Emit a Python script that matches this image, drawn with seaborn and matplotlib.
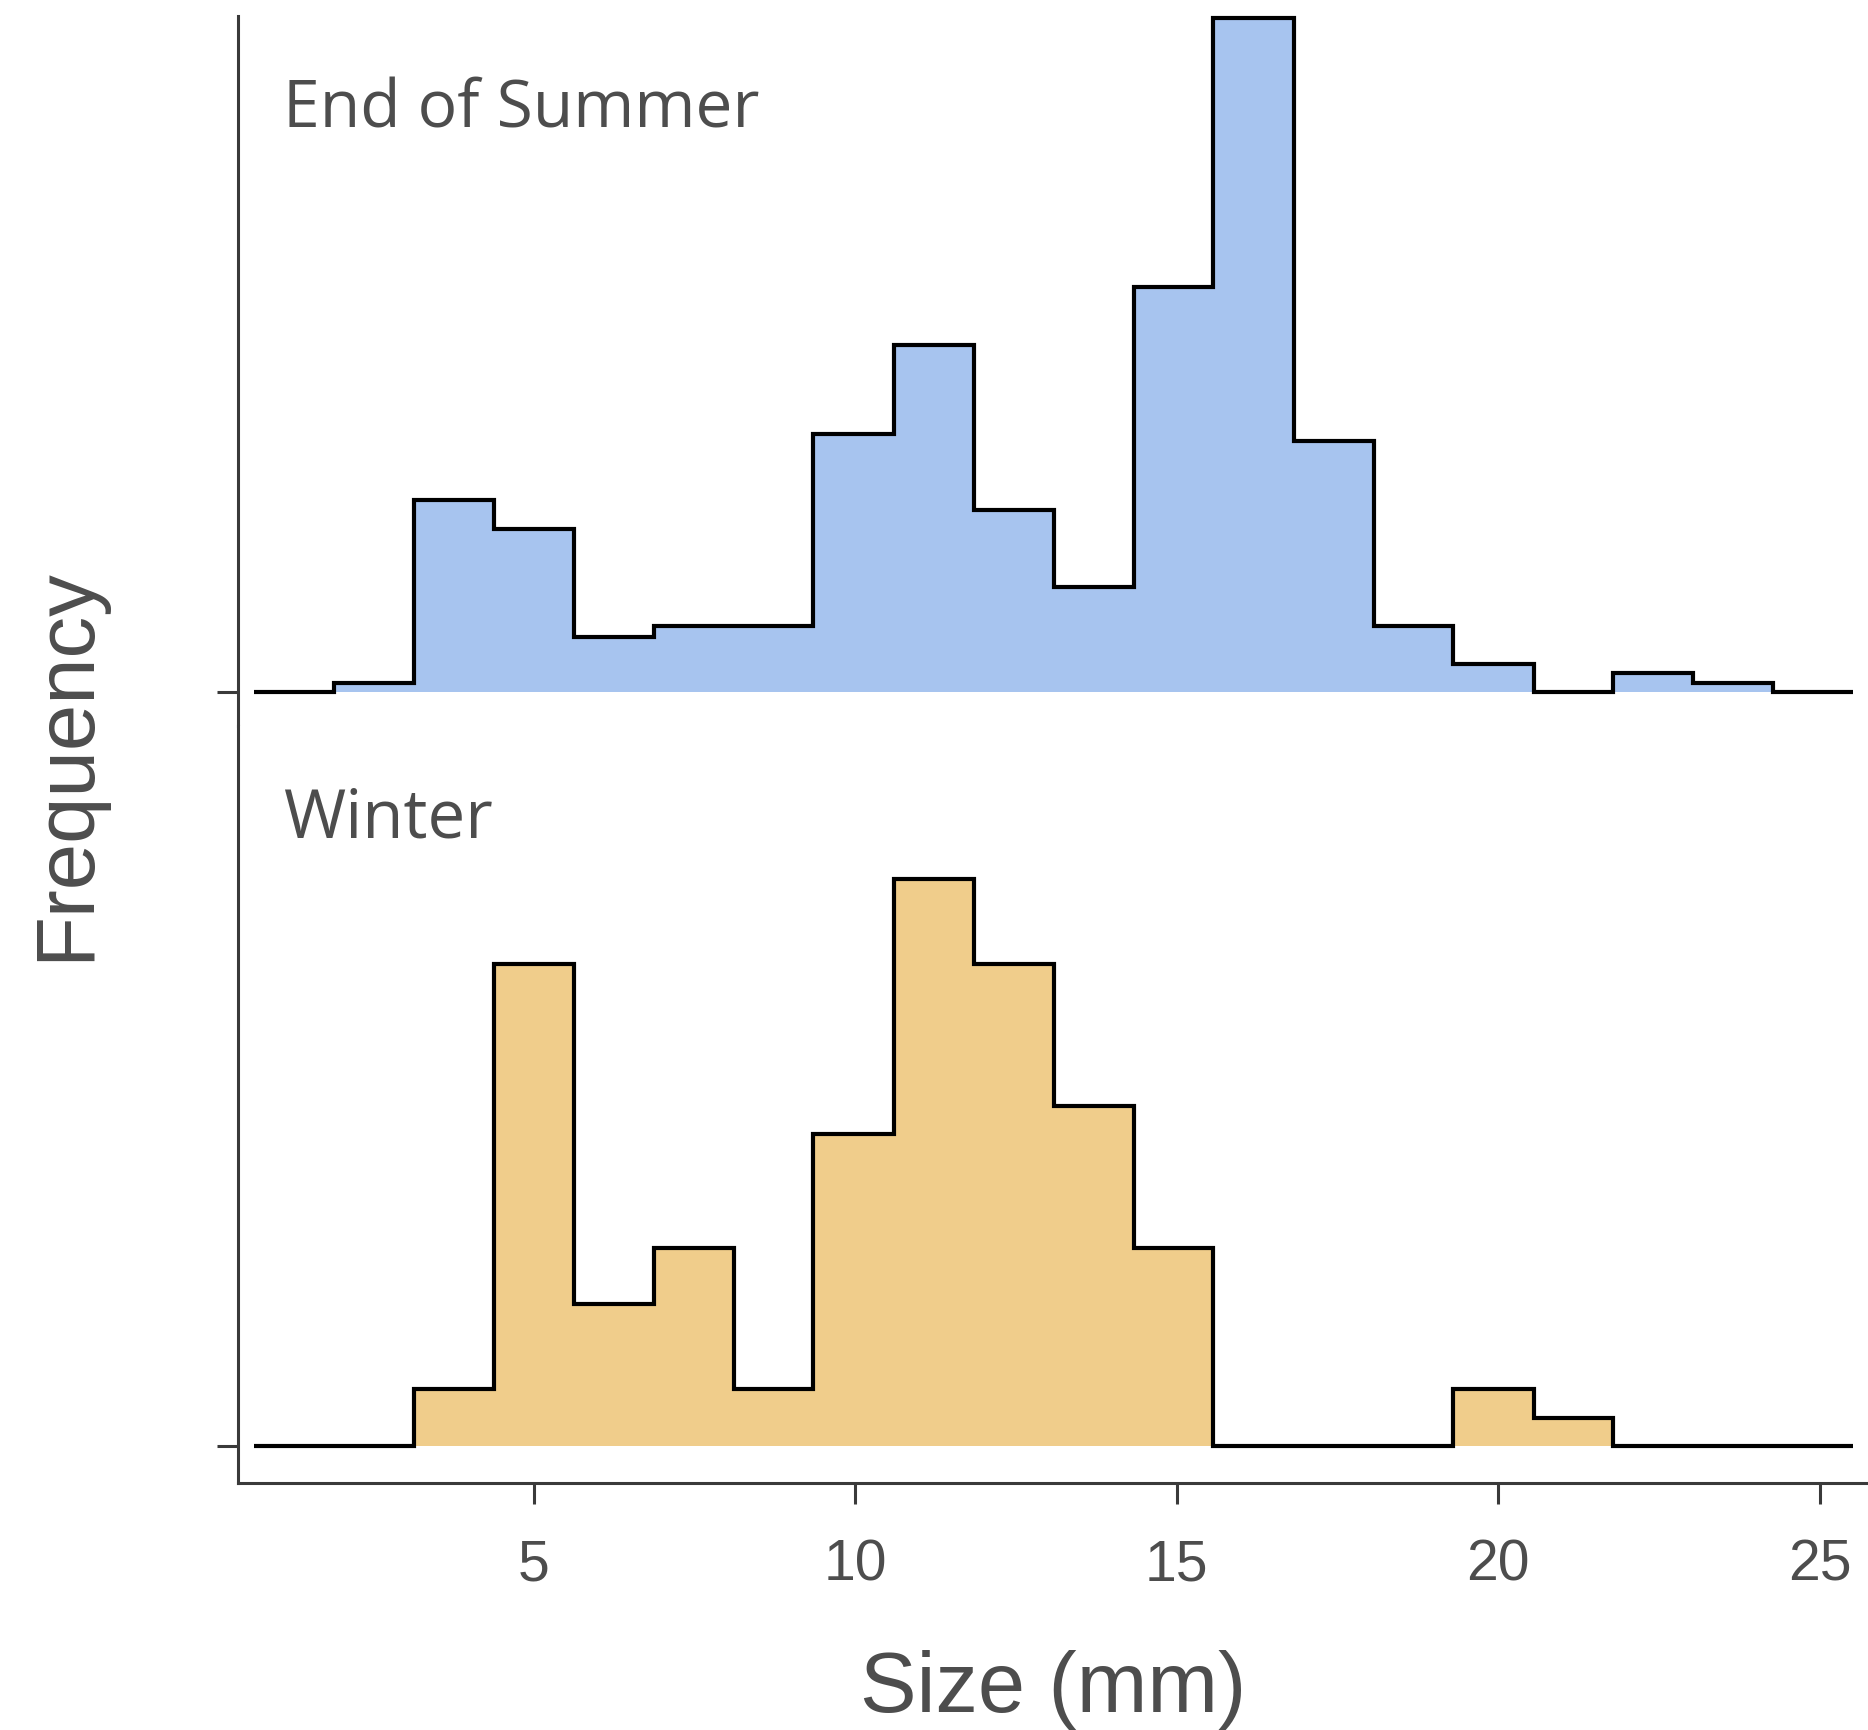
import matplotlib
matplotlib.use("Agg")
import matplotlib.pyplot as plt
import seaborn as sns
import numpy as np

# ---- data ----
bin_edges = [0.65, 1.89, 3.14, 4.38, 5.62, 6.87, 8.11, 9.35, 10.60, 11.84,
             13.09, 14.33, 15.57, 16.82, 18.06, 19.30, 20.55, 21.79, 23.03,
             24.28, 25.52]
bin_centers = [1.27, 2.52, 3.76, 5.00, 6.25, 7.49, 8.73, 9.98, 11.22, 12.47,
               13.71, 14.95, 16.20, 17.44, 18.68, 19.93, 21.17, 22.41, 23.66,
               24.90]
summer_counts = [0, 1, 20.5, 17.4, 5.9, 7, 7, 27.6, 37.1, 19.4, 11.2, 43.3,
                 72, 26.8, 7, 3, 0, 2, 1, 0]
winter_counts = [0, 0, 2, 17, 5, 7, 2, 11, 20, 17, 12, 7, 0, 0, 0, 2, 1, 0,
                 0, 0]
panel_labels = ["End of Summer", "Winter"]
x_ticks = [5, 10, 15, 20, 25]
x_label = "Size (mm)"
y_label = "Frequency"

# ---- style ----
W, H, DPI = 1868, 1730, 100
blue = "#A7C4EF"
orange = "#F0CD8B"
spine_col = "#3a3a3a"
text_col = "#4d4d4d"

sns.set_style("white")
plt.rcParams["font.family"] = ["Liberation Sans", "DejaVu Sans"]

fig = plt.figure(figsize=(W / DPI, H / DPI), dpi=DPI)

left = 238 / W
ax_top = fig.add_axes([left, 1 - 726 / H, 1 - left, (726 - 16) / H])
ax_bot = fig.add_axes([left, 1 - 1483 / H, 1 - left, (1483 - 726) / H])

for ax, counts, col in [(ax_top, summer_counts, blue), (ax_bot, winter_counts, orange)]:
    sns.histplot(x=bin_centers, weights=counts, bins=bin_edges, element="step",
                 fill=True, color=col, alpha=1, linewidth=0, ax=ax)
    sns.histplot(x=bin_centers, weights=counts, bins=bin_edges, element="step",
                 fill=False, color="black", linewidth=3.0, ax=ax)
    for ln in ax.lines:
        ln.set_clip_on(False)
        ln.set_solid_joinstyle("miter")
        ln.set_solid_capstyle("butt")
    ax.set_xlim(0.40, 25.75)
    ax.set_ylabel("")
    ax.set_xlabel("")
    ax.set_yticks([0])
    ax.set_yticklabels([])
    ax.tick_params(axis="y", length=15, width=2.2, color=spine_col, direction="out", left=True)
    for s in ["top", "right"]:
        ax.spines[s].set_visible(False)
    ax.spines["left"].set_color(spine_col)
    ax.spines["left"].set_linewidth(2.2)
    ax.set_facecolor("white")

ax_top.set_ylim(-3.63, 72.2)
ax_top.spines["bottom"].set_visible(False)
ax_top.set_xticks([])

ax_bot.set_ylim(-1.305, 25.4)
ax_bot.spines["bottom"].set_color(spine_col)
ax_bot.spines["bottom"].set_linewidth(2.2)
ax_bot.set_xticks(x_ticks)
ax_bot.set_xticklabels([str(t) for t in x_ticks])
ax_bot.tick_params(axis="x", length=15, width=2.2, color=spine_col, direction="out",
                   bottom=True, pad=25, labelsize=41, labelcolor=text_col)

# panel labels
lab_font = ["Open Sans", "DejaVu Sans"]
fig.text(283 / W, 1 - 128 / H, panel_labels[0], family=lab_font, fontsize=47.5,
         color=text_col, ha="left", va="baseline")
fig.text(283 / W, 1 - 837 / H, panel_labels[1], family=lab_font, fontsize=48.5,
         color=text_col, ha="left", va="baseline")

# axis titles
fig.text(66 / W, 1 - 764 / H, y_label, rotation=90, fontsize=60, color=text_col,
         ha="center", va="center")
fig.text(1053 / W, 1 - 1690 / H, x_label, fontsize=61, color=text_col,
         ha="center", va="center")

fig.savefig("out.png", dpi=DPI, facecolor="white")
